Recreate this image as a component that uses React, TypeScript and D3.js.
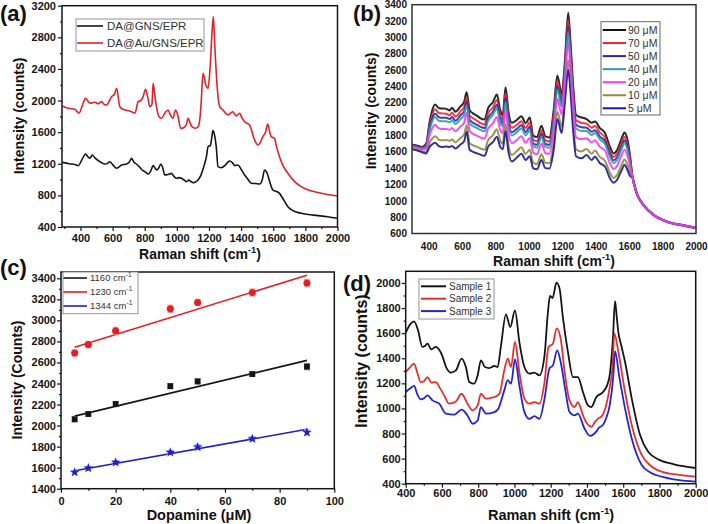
import React, { useEffect, useRef } from 'react';
import * as d3 from 'd3';

type Pt = [number, number];

const FONT = "'Liberation Sans', Arial, Helvetica, sans-serif";

// ---------- (a) Raman spectra, two substrates ----------
const gnsEpr: Pt[] = [
  [287, 1218], [330, 1200], [365, 1190], [386, 1176], [410, 1255], [432, 1324], [446, 1290], [459, 1269],
  [473, 1311], [490, 1275], [511, 1240], [530, 1215], [553, 1197], [568, 1205], [583, 1226], [600, 1190],
  [625, 1143], [640, 1160], [656, 1185], [687, 1197], [705, 1225], [718, 1269], [733, 1220], [749, 1197],
  [765, 1165], [784, 1121], [805, 1095], [821, 1070], [838, 1110], [852, 1176], [863, 1150], [873, 1121],
  [888, 1150], [900, 1197], [912, 1150], [925, 1058], [945, 1065], [966, 1079], [982, 1040], [998, 1016],
  [1012, 1025], [1029, 1016], [1045, 995], [1060, 973], [1074, 995], [1088, 975], [1101, 961], [1120, 975],
  [1132, 995], [1150, 1057], [1170, 1180], [1185, 1300], [1194, 1416], [1208, 1430], [1218, 1540], [1224, 1619],
  [1235, 1560], [1245, 1420], [1256, 1163], [1275, 1150], [1300, 1180], [1315, 1215], [1329, 1235], [1345, 1215],
  [1362, 1175], [1380, 1185], [1400, 1130], [1422, 1058], [1440, 1010], [1463, 953], [1490, 950], [1515, 944],
  [1532, 1000], [1546, 1121], [1560, 1090], [1580, 960], [1598, 868], [1620, 850], [1639, 826], [1660, 760],
  [1691, 657], [1720, 610], [1774, 573], [1850, 550], [1939, 530], [2000, 510],
];

const auGnsEpr: Pt[] = [
  [287, 1931], [324, 1902], [366, 1889], [391, 1839], [412, 1940], [432, 2028], [459, 1965], [490, 1978],
  [510, 1960], [532, 1986], [548, 1950], [563, 1944], [580, 2000], [594, 2049], [612, 2080], [625, 2155],
  [645, 1922], [676, 1880], [700, 1870], [718, 1859], [739, 1839], [759, 1986], [775, 2000], [790, 2049],
  [805, 2142], [818, 2050], [832, 1922], [845, 1950], [852, 2218], [862, 2080], [873, 1922], [888, 1800],
  [904, 1775], [925, 1840], [945, 1880], [960, 1820], [976, 1775], [991, 1880], [1005, 1820], [1024, 1649],
  [1045, 1660], [1060, 1700], [1070, 1775], [1082, 1720], [1094, 1669], [1115, 1650], [1132, 1669], [1145, 1800],
  [1152, 2000], [1163, 2345], [1180, 2200], [1194, 2155], [1208, 2450], [1220, 2900], [1227, 3060], [1236, 2700],
  [1250, 2200], [1267, 1922], [1287, 1880], [1318, 1817], [1334, 1840], [1349, 1859], [1370, 1805], [1391, 1839],
  [1405, 1780], [1422, 1732], [1453, 1690], [1484, 1501], [1504, 1438], [1520, 1470], [1535, 1543], [1552, 1600],
  [1566, 1703], [1577, 1610], [1587, 1543], [1608, 1522], [1620, 1420], [1639, 1290], [1660, 1180], [1691, 1080],
  [1730, 980], [1774, 910], [1815, 870], [1857, 847], [1930, 815], [2001, 792],
];

// ---------- (b) concentration series ----------
const bShift = [
  300, 340, 360, 385, 405, 420, 438, 460, 480, 505,
  525, 540, 560, 590, 612, 627, 645, 665, 690, 710,
  735, 755, 785, 808, 828, 843, 860, 878, 898, 928,
  955, 980, 1005, 1025, 1048, 1075, 1098, 1122, 1148, 1170,
  1196, 1215, 1235, 1250, 1265, 1282, 1315, 1345, 1375, 1395,
  1425, 1455, 1485, 1507, 1527, 1555, 1572, 1590, 1606, 1618,
  1645, 1685, 1745, 1825, 1925, 2000,
];
const da90 = [
  1690, 1670, 1660, 1700, 1960, 2100, 2180, 2135, 2130, 2125,
  2105, 2140, 2090, 2155, 2210, 2330, 2110, 2070, 2040, 2010,
  1995, 2130, 2210, 2300, 2110, 2050, 2390, 2080, 1955, 1990,
  2035, 1950, 2020, 1800, 1780, 1920, 1790, 1775, 2110, 2535,
  2310, 2700, 3300, 2900, 2400, 2050, 2020, 2000, 1955, 1970,
  1890, 1830, 1660, 1580, 1620, 1765, 1835, 1745, 1540, 1320,
  1095, 955, 832, 748, 702, 672,
];
const da70 = [
  1680, 1660, 1650, 1685, 1920, 2045, 2120, 2075, 2070, 2065,
  2045, 2080, 2030, 2095, 2150, 2265, 2045, 2010, 1980, 1950,
  1935, 2070, 2145, 2235, 2050, 1995, 2320, 2015, 1895, 1930,
  1975, 1890, 1960, 1750, 1730, 1865, 1740, 1725, 2045, 2465,
  2250, 2635, 3210, 2820, 2330, 1985, 1955, 1945, 1895, 1915,
  1835, 1775, 1610, 1535, 1575, 1715, 1785, 1695, 1510, 1315,
  1093, 953, 831, 747, 701, 671,
];
const da50 = [
  1675, 1655, 1645, 1670, 1890, 2000, 2065, 2025, 2015, 2015,
  2000, 2025, 1980, 2045, 2095, 2215, 1995, 1955, 1930, 1905,
  1890, 2015, 2090, 2175, 2000, 1950, 2260, 1960, 1840, 1880,
  1925, 1840, 1905, 1705, 1685, 1820, 1695, 1685, 1990, 2405,
  2195, 2580, 3130, 2755, 2270, 1930, 1900, 1895, 1845, 1865,
  1785, 1730, 1570, 1495, 1530, 1670, 1740, 1655, 1480, 1310,
  1092, 952, 830, 746, 700, 670,
];
const da40 = [
  1670, 1650, 1640, 1660, 1860, 1965, 2025, 1980, 1975, 1975,
  1960, 1985, 1940, 2000, 2050, 2170, 1950, 1915, 1890, 1865,
  1850, 1975, 2050, 2130, 1960, 1910, 2210, 1920, 1800, 1840,
  1885, 1800, 1865, 1670, 1650, 1780, 1660, 1650, 1950, 2360,
  2150, 2535, 3070, 2700, 2220, 1885, 1855, 1855, 1805, 1830,
  1750, 1695, 1535, 1460, 1500, 1635, 1705, 1625, 1460, 1305,
  1091, 951, 829, 745, 699, 669,
];
const da20 = [
  1660, 1640, 1625, 1635, 1800, 1885, 1930, 1890, 1880, 1880,
  1870, 1890, 1850, 1910, 1955, 2075, 1855, 1820, 1795, 1775,
  1760, 1880, 1950, 2025, 1870, 1825, 2105, 1820, 1705, 1745,
  1790, 1710, 1770, 1590, 1570, 1700, 1585, 1575, 1850, 2250,
  2055, 2435, 2930, 2580, 2110, 1780, 1755, 1765, 1715, 1740,
  1660, 1615, 1455, 1390, 1425, 1560, 1625, 1550, 1415, 1300,
  1090, 950, 828, 744, 698, 668,
];
const da10 = [
  1640, 1620, 1605, 1600, 1710, 1760, 1790, 1750, 1740, 1745,
  1735, 1750, 1715, 1770, 1810, 1925, 1705, 1680, 1660, 1640,
  1625, 1740, 1805, 1875, 1735, 1700, 1940, 1675, 1560, 1610,
  1655, 1575, 1625, 1470, 1450, 1570, 1465, 1460, 1705, 2090,
  1910, 2285, 2720, 2400, 1945, 1630, 1605, 1635, 1575, 1615,
  1535, 1490, 1340, 1280, 1315, 1440, 1505, 1440, 1340, 1295,
  1089, 949, 827, 743, 697, 667,
];
const da5 = [
  1630, 1610, 1595, 1580, 1660, 1690, 1710, 1670, 1660, 1665,
  1660, 1670, 1640, 1690, 1730, 1845, 1625, 1600, 1580, 1565,
  1550, 1660, 1720, 1785, 1660, 1630, 1850, 1590, 1480, 1530,
  1575, 1500, 1545, 1400, 1385, 1500, 1400, 1395, 1620, 2000,
  1830, 2200, 2600, 2300, 1850, 1545, 1520, 1560, 1500, 1540,
  1460, 1420, 1275, 1220, 1255, 1375, 1440, 1375, 1300, 1290,
  1088, 948, 826, 742, 696, 666,
];
const bLabels = ['90 μM', '70 μM', '50 μM', '40 μM', '20 μM', '10 μM', '5 μM'];
const bColors = ['#111111', '#f0262a', '#2a2aa8', '#2e9ea6', '#f23cf2', '#8e8c3a', '#1c1c8c'];
const bValues = [da90, da70, da50, da40, da20, da10, da5];

// ---------- (c) calibration ----------
const dopamine = [5, 10, 20, 40, 50, 70, 90];
const peak1160 = [2060, 2110, 2205, 2375, 2420, 2490, 2560];
const peak1230 = [2690, 2770, 2900, 3110, 3170, 3265, 3355];
const peak1344 = [1555, 1595, 1650, 1745, 1795, 1875, 1935];
const err1160 = [25, 20, 25, 25, 25, 20, 30];
const err1230 = [30, 30, 35, 35, 30, 35, 35];
const err1344 = [20, 20, 20, 20, 25, 20, 25];
const fitX = [5, 90];
const fit1160 = [2090, 2620];
const fit1230 = [2745, 3430];
const fit1344 = [1570, 1965];

// ---------- (d) real samples ----------
const sample1: Pt[] = [
  [400, 1604], [428, 1676], [446, 1694], [468, 1623], [492, 1490], [508, 1500], [520, 1516], [542, 1471],
  [566, 1490], [597, 1436], [627, 1317], [649, 1285], [677, 1303], [708, 1397], [732, 1330], [751, 1211],
  [778, 1197], [797, 1264], [815, 1383], [837, 1330], [861, 1322], [889, 1338], [907, 1330], [926, 1503],
  [953, 1750], [977, 1649], [1003, 1782], [1027, 1530], [1055, 1330], [1083, 1277], [1110, 1285], [1138, 1264],
  [1166, 1423], [1184, 1755], [1196, 1896], [1210, 1880], [1232, 2003], [1249, 1955], [1267, 1729], [1295, 1450],
  [1323, 1250], [1350, 1250], [1378, 1131], [1406, 1024], [1424, 1011], [1452, 1091], [1489, 1131], [1510, 1180],
  [1527, 1280], [1543, 1550], [1555, 1855], [1565, 1720], [1573, 1611], [1590, 1500], [1610, 1372], [1647, 1080],
  [1693, 788], [1740, 650], [1800, 590], [1880, 555], [2000, 525],
];
const sample2: Pt[] = [
  [400, 1290], [425, 1330], [446, 1357], [465, 1280], [483, 1210], [500, 1215], [520, 1250], [542, 1205],
  [566, 1210], [590, 1160], [612, 1104], [640, 1038], [677, 1056], [708, 1117], [741, 1038], [769, 985],
  [797, 1024], [815, 1117], [843, 1078], [870, 1085], [889, 1091], [917, 1117], [944, 1304], [963, 1397],
  [981, 1330], [1003, 1530], [1027, 1290], [1055, 1078], [1083, 1038], [1110, 1051], [1138, 1038], [1166, 1210],
  [1188, 1490], [1212, 1516], [1233, 1638], [1255, 1556], [1277, 1290], [1304, 1064], [1332, 1011], [1350, 1051],
  [1378, 944], [1400, 880], [1426, 854], [1443, 891], [1463, 921], [1480, 935], [1505, 1020], [1527, 1180],
  [1542, 1350], [1551, 1598], [1573, 1452], [1610, 1133], [1647, 868], [1702, 629], [1750, 545], [1812, 496],
  [1900, 472], [2000, 456],
];
const sample3: Pt[] = [
  [400, 1131], [425, 1160], [446, 1179], [465, 1110], [483, 1072], [500, 1080], [520, 1104], [548, 1064],
  [585, 1038], [622, 958], [668, 950], [708, 990], [741, 944], [769, 878], [797, 904], [815, 1011],
  [843, 958], [889, 971], [911, 998], [944, 1144], [963, 1225], [981, 1197], [1003, 1390], [1027, 1184],
  [1055, 971], [1083, 917], [1110, 938], [1138, 917], [1166, 1077], [1194, 1322], [1212, 1343], [1236, 1462],
  [1255, 1370], [1281, 1144], [1304, 971], [1332, 944], [1350, 958], [1387, 838], [1417, 782], [1452, 817],
  [1463, 841], [1489, 870], [1508, 930], [1525, 1020], [1545, 1250], [1555, 1457], [1577, 1266], [1610, 1001],
  [1647, 761], [1702, 549], [1750, 490], [1812, 456], [1900, 430], [2000, 416],
];

type Sel = d3.Selection<SVGSVGElement, unknown, null, undefined>;
type Lin = d3.ScaleLinear<number, number>;

const range = (a: number, b: number, s: number) => d3.range(a, b + s / 2, s);

// boxed axes with outward major + minor ticks
function axes(svg: Sel, x: Lin, y: Lin, o: any) {
  const g = svg.append('g');
  const [xl, xr] = x.range();
  const [yb, yt] = y.range();
  const tl = o.tick;
  if (o.xMinor) g.append('g').attr('transform', `translate(0,${yb})`)
    .call(d3.axisBottom(x).tickValues(o.xMinor).tickSize(tl / 2).tickFormat(() => ''));
  if (o.yMinor) g.append('g').attr('transform', `translate(${xl},0)`)
    .call(d3.axisLeft(y).tickValues(o.yMinor).tickSize(tl / 2).tickFormat(() => ''));
  g.append('g').attr('transform', `translate(0,${yb})`)
    .call(d3.axisBottom(x).tickValues(o.xTicks).tickSize(tl).tickPadding(o.xPad).tickFormat(d3.format('d')));
  g.append('g').attr('transform', `translate(${xl},0)`)
    .call(d3.axisLeft(y).tickValues(o.yTicks).tickSize(tl).tickPadding(o.yPad).tickFormat(d3.format('d')));
  g.selectAll('.domain').remove();
  g.selectAll('g').attr('font-family', null).attr('font-size', null);
  g.selectAll('text').attr('font-family', FONT).attr('font-size', o.fs).attr('font-weight', 'bold').attr('fill', '#151515');
  g.selectAll('line').attr('stroke', '#151515').attr('stroke-width', 1.2);
  svg.append('rect').attr('x', xl).attr('y', yt).attr('width', xr - xl).attr('height', yb - yt)
    .attr('fill', 'none').attr('stroke', o.frame || '#151515').attr('stroke-width', 1.5);
}

function titles(svg: Sel, o: any) {
  svg.append('text').attr('x', o.tag[0]).attr('y', o.tag[1]).attr('font-size', 22).attr('font-weight', 'bold')
    .attr('font-family', FONT).attr('fill', '#111').text(o.tag[2]);
  const yt = svg.append('text').attr('transform', `translate(${o.yT[0]},${o.yT[1]}) rotate(-90)`)
    .attr('text-anchor', 'middle').attr('font-size', o.yT[2]).attr('font-weight', 'bold')
    .attr('font-family', FONT).attr('fill', '#111').text(o.yT[3]);
  const xt = svg.append('text').attr('x', o.xT[0]).attr('y', o.xT[1]).attr('text-anchor', 'middle')
    .attr('font-size', o.xT[2]).attr('font-weight', 'bold').attr('font-family', FONT).attr('fill', '#111');
  if (o.xT[3] === 'raman') {
    xt.append('tspan').text('Raman shift (cm');
    xt.append('tspan').attr('dy', -6).attr('font-size', o.xT[2] * 0.66).text('-1');
    xt.append('tspan').attr('dy', 6).text(')');
  } else xt.text(o.xT[3]);
  return yt;
}

function legend(svg: Sel, o: any) {
  svg.append('rect').attr('x', o.box[0]).attr('y', o.box[1]).attr('width', o.box[2]).attr('height', o.box[3])
    .attr('fill', '#fff').attr('stroke', o.stroke || '#888').attr('stroke-width', 0.9);
  o.items.forEach((it: any, i: number) => {
    const yy = o.y0 + i * o.dy;
    svg.append('line').attr('x1', o.lx[0]).attr('x2', o.lx[1]).attr('y1', yy).attr('y2', yy)
      .attr('stroke', it.color).attr('stroke-width', o.lw);
    const t = svg.append('text').attr('x', o.tx).attr('y', yy + o.fs * 0.36).attr('font-size', o.fs)
      .attr('font-family', FONT).attr('fill', '#333');
    if (it.sup) {
      t.append('tspan').text(it.label);
      t.append('tspan').attr('dy', -4).attr('font-size', o.fs * 0.7).text(it.sup);
    } else t.text(it.label);
  });
}

function drawA(svg: Sel) {
  const x = d3.scaleLinear().domain([285, 2000]).range([62, 337.5]);
  const y = d3.scaleLinear().domain([400, 3200]).range([227, 5.7]);
  const line = d3.line<Pt>().x(d => x(d[0])).y(d => y(d[1])).curve(d3.curveMonotoneX);
  svg.append('path').datum(gnsEpr).attr('d', line).attr('fill', 'none').attr('stroke', '#151515').attr('stroke-width', 1.6);
  svg.append('path').datum(auGnsEpr).attr('d', line).attr('fill', 'none').attr('stroke', '#e0222a').attr('stroke-width', 1.6);
  axes(svg, x, y, {
    xTicks: range(400, 2000, 200), xMinor: range(300, 1900, 200), yTicks: range(400, 3200, 400),
    yMinor: range(600, 3000, 400), tick: 4, xPad: 3, yPad: 2, fs: 11,
  });
  titles(svg, { tag: [0, 21, '(a)'], yT: [24, 116, 14, 'Intensity (counts)'], xT: [200, 259, 14, 'raman'] });
  legend(svg, {
    box: [76, 19, 128, 32], lx: [77, 103], tx: 107, y0: 26, dy: 17, fs: 11.5, lw: 1.6,
    items: [{ label: 'DA@GNS/EPR', color: '#151515' }, { label: 'DA@Au/GNS/EPR', color: '#e0222a' }],
  });
}

function drawB(svg: Sel) {
  const x = d3.scaleLinear().domain([300, 2000]).range([412, 696]);
  const y = d3.scaleLinear().domain([600, 3400]).range([233.5, 4.7]);
  const line = d3.line<number>().x((_, i) => x(bShift[i])).y(d => y(d)).curve(d3.curveMonotoneX);
  const order = [0, 1, 2, 3, 5, 6, 4];
  order.forEach(k => {
    svg.append('path').datum(bValues[k]).attr('d', line).attr('fill', 'none')
      .attr('stroke', bColors[k]).attr('stroke-width', 2).attr('stroke-opacity', 0.9);
  });
  axes(svg, x, y, {
    xTicks: range(400, 2000, 200), yTicks: range(600, 3400, 200), tick: 0, xPad: 9, yPad: 5, fs: 10, frame: '#333',
  });
  titles(svg, { tag: [353, 21, '(b)'], yT: [376, 111, 14, 'Intensity (counts)'], xT: [554, 266, 14, 'raman'] });
  legend(svg, {
    box: [601, 21.7, 59, 93.3], lx: [602.7, 626], tx: 628, y0: 30, dy: 13.05, fs: 10.5, lw: 2, stroke: '#555',
    items: bLabels.map((l, i) => ({ label: l, color: bColors[i] })),
  });
}

function drawC(svg: Sel) {
  const x = d3.scaleLinear().domain([0, 100]).range([61, 334.3]);
  const y = d3.scaleLinear().domain([1400, 3460]).range([488.7, 272]);
  const sets = [
    { v: peak1160, e: err1160, fit: fit1160, color: '#151515', err: '#9a9a9a', sym: d3.symbolSquare, size: 34, label: '1160 cm' },
    { v: peak1230, e: err1230, fit: fit1230, color: '#e41e24', err: '#f4a0a0', sym: d3.symbolCircle, size: 40, label: '1230 cm' },
    { v: peak1344, e: err1344, fit: fit1344, color: '#1f1fc2', err: '#9aa0f0', sym: d3.symbolStar, size: 30, label: '1344 cm' },
  ];
  sets.forEach(s => {
    svg.append('line').attr('x1', x(fitX[0])).attr('x2', x(fitX[1])).attr('y1', y(s.fit[0])).attr('y2', y(s.fit[1]))
      .attr('stroke', s.color).attr('stroke-width', 1.6);
    const g = svg.append('g');
    dopamine.forEach((d, i) => {
      const cx = x(d);
      g.append('line').attr('x1', cx).attr('x2', cx).attr('y1', y(s.v[i] - s.e[i])).attr('y2', y(s.v[i] + s.e[i]))
        .attr('stroke', s.err).attr('stroke-width', 1);
      [s.v[i] - s.e[i], s.v[i] + s.e[i]].forEach(b => g.append('line').attr('x1', cx - 3).attr('x2', cx + 3)
        .attr('y1', y(b)).attr('y2', y(b)).attr('stroke', s.err).attr('stroke-width', 1));
      g.append('path').attr('d', d3.symbol().type(s.sym).size(s.size)())
        .attr('transform', `translate(${cx},${y(s.v[i])})`).attr('fill', s.color);
    });
  });
  axes(svg, x, y, {
    xTicks: range(0, 100, 20), xMinor: range(10, 90, 20), yTicks: range(1400, 3400, 200),
    yMinor: range(1500, 3300, 200), tick: 4, xPad: 4.5, yPad: 1, fs: 11,
  });
  titles(svg, { tag: [0, 275, '(c)'], yT: [22, 380, 14, 'Intensity (Counts)'], xT: [199, 520, 14.5, 'Dopamine (μM)'] });
  legend(svg, {
    box: [63, 272, 75, 41.7], lx: [63.5, 87], tx: 90, y0: 278, dy: 14, fs: 9.5, lw: 1.6,
    items: sets.map(s => ({ label: s.label, sup: '-1', color: s.color })),
  });
}

function drawD(svg: Sel) {
  const x = d3.scaleLinear().domain([400, 2000]).range([405.7, 695.7]);
  const y = d3.scaleLinear().domain([400, 2093]).range([483.7, 271.3]);
  const line = d3.line<Pt>().x(d => x(d[0])).y(d => y(d[1])).curve(d3.curveMonotoneX);
  const sets = [
    { data: sample1, color: '#151515', label: 'Sample 1' },
    { data: sample2, color: '#e53030', label: 'Sample 2' },
    { data: sample3, color: '#2424d0', label: 'Sample 3' },
  ];
  sets.forEach(s => svg.append('path').datum(s.data).attr('d', line).attr('fill', 'none')
    .attr('stroke', s.color).attr('stroke-width', 1.8));
  axes(svg, x, y, {
    xTicks: range(400, 2000, 200), xMinor: range(500, 1900, 200), yTicks: range(400, 2000, 200),
    yMinor: range(500, 2000, 200), tick: 4, xPad: 1.5, yPad: 1, fs: 11,
  });
  titles(svg, { tag: [343, 291, '(d)'], yT: [367, 361, 16, 'Intensity (counts)'], xT: [551, 520, 14.5, 'raman'] });
  legend(svg, {
    box: [419, 279, 75, 40], lx: [421, 446], tx: 449, y0: 286.3, dy: 12.4, fs: 10, lw: 2,
    items: sets.map(s => ({ label: s.label, color: s.color })),
  });
}

const App = () => {
  const ref = useRef<SVGSVGElement>(null);

  useEffect(() => {
    const svg = d3.select(ref.current as SVGSVGElement) as unknown as Sel;
    svg.selectAll('*').remove();
    drawA(svg);
    drawB(svg);
    drawC(svg);
    drawD(svg);
  }, []);

  return (
    <svg ref={ref} width={708} height={524}
      style={{ position: 'absolute', left: 0, top: 0, background: '#fff', display: 'block' }} />
  );
};

export default App;
